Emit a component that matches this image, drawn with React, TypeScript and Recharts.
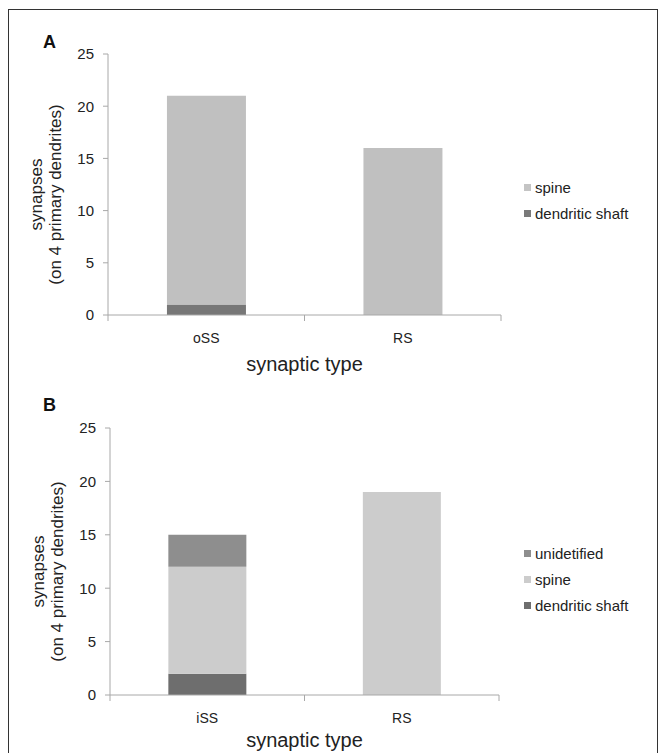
import { BarChart, Bar, XAxis, YAxis } from 'recharts';

// panel A
const categoriesA = ['oSS', 'RS'];
const shaftA = [1, 0];
const spineA = [20, 16];

// panel B
const categoriesB = ['iSS', 'RS'];
const shaftB = [2, 0];
const spineB = [10, 19];
const unidentifiedB = [3, 0];

const yTicks = [0, 5, 10, 15, 20, 25];

const FONT = '"Liberation Sans", Arial, Helvetica, sans-serif';
const AXIS = '#a8a8a8';

const dataA = categoriesA.map((c, i) => ({ name: c, shaft: shaftA[i], spine: spineA[i] }));
const dataB = categoriesB.map((c, i) => ({
  name: c, shaft: shaftB[i], spine: spineB[i], unidentified: unidentifiedB[i],
}));

const makeTick = (count: number) => (props: any) => {
  const { x, y, payload, index } = props;
  const half = payload.offset || 0;
  return (
    <g>
      <line x1={x - half} x2={x - half} y1={y} y2={y + 6} stroke={AXIS} />
      {index === count - 1 && <line x1={x + half} x2={x + half} y1={y} y2={y + 6} stroke={AXIS} />}
      <text x={x} y={y + 28} textAnchor="middle" fontSize={14} fill="#222" fontFamily={FONT}>
        {payload.value}
      </text>
    </g>
  );
};

const YTitle = ({ viewBox }: any) => {
  const cy = viewBox.y + viewBox.height / 2 + 10;
  const right = viewBox.x + viewBox.width;
  const x1 = right - 66;
  const x2 = right - 47;
  return (
    <g fontFamily={FONT} fontSize={17} fill="#222" textAnchor="middle">
      <text x={x1} y={cy} transform={`rotate(-90, ${x1}, ${cy})`}>synapses</text>
      <text x={x2} y={cy} transform={`rotate(-90, ${x2}, ${cy})`}>(on 4 primary dendrites)</text>
    </g>
  );
};

const makeXTitle = (dy: number) => ({ viewBox }: any) => (
  <text x={viewBox.x + viewBox.width / 2} y={viewBox.y + dy} textAnchor="middle"
    fontFamily={FONT} fontSize={20} fill="#222">
    synaptic type
  </text>
);
const XTitleA = makeXTitle(56);
const XTitleB = makeXTitle(52);

const LegendBox = ({ items, top }: { items: { name: string; color: string }[]; top: number }) => (
  <div style={{ position: 'absolute', left: 524, top, fontFamily: FONT, fontSize: 15, color: '#222' }}>
    {items.map(it => (
      <div key={it.name} style={{ display: 'flex', alignItems: 'center', height: 26 }}>
        <span style={{ width: 7, height: 7, background: it.color, display: 'inline-block', marginRight: 4 }} />
        <span>{it.name}</span>
      </div>
    ))}
  </div>
);

const PanelLetter = ({ text, top }: { text: string; top: number }) => (
  <div style={{ position: 'absolute', left: 43, top, fontFamily: FONT, fontSize: 18, fontWeight: 700, color: '#111' }}>
    {text}
  </div>
);

export default function App() {
  return (
    <div style={{ position: 'absolute', left: 0, top: 0, width: 662, height: 753, overflow: 'hidden', background: '#fff' }}>
      <div style={{
        position: 'absolute', left: 8, top: 9, width: 650, height: 800,
        border: '1px solid #333', boxSizing: 'border-box',
      }} />

      {/* ── Panel A ── */}
      <PanelLetter text="A" top={32} />
      <div style={{ position: 'absolute', left: 0, top: 0 }}>
        <BarChart width={662} height={380} data={dataA} barCategoryGap="30%"
          margin={{ top: 54, right: 161, left: 48, bottom: 35 }}>
          <XAxis dataKey="name" stroke={AXIS} tickLine={false} tickSize={0} tickMargin={0} height={30}
            tick={makeTick(categoriesA.length)} label={<XTitleA />} />
          <YAxis domain={[0, 25]} ticks={yTicks} width={60} stroke={AXIS} tickSize={5} tickMargin={9}
            tick={{ fill: '#222', fontSize: 15, fontFamily: FONT }} label={<YTitle />} />
          <Bar dataKey="shaft" stackId="a" fill="#777777" isAnimationActive={false} />
          <Bar dataKey="spine" stackId="a" fill="#c0c0c0" isAnimationActive={false} />
        </BarChart>
      </div>
      <LegendBox top={174} items={[
        { name: 'spine', color: '#c4c4c4' },
        { name: 'dendritic shaft', color: '#7a7a7a' },
      ]} />

      {/* ── Panel B ── */}
      <PanelLetter text="B" top={395} />
      <div style={{ position: 'absolute', left: 0, top: 380 }}>
        <BarChart width={662} height={373} data={dataB} barCategoryGap="30%"
          margin={{ top: 48, right: 163, left: 50, bottom: 28 }}>
          <XAxis dataKey="name" stroke={AXIS} tickLine={false} tickSize={0} tickMargin={0} height={30}
            tick={makeTick(categoriesB.length)} label={<XTitleB />} />
          <YAxis domain={[0, 25]} ticks={yTicks} width={60} stroke={AXIS} tickSize={5} tickMargin={9}
            tick={{ fill: '#222', fontSize: 15, fontFamily: FONT }} label={<YTitle />} />
          <Bar dataKey="shaft" stackId="b" fill="#6e6e6e" isAnimationActive={false} />
          <Bar dataKey="spine" stackId="b" fill="#cccccc" isAnimationActive={false} />
          <Bar dataKey="unidentified" stackId="b" fill="#8e8e8e" isAnimationActive={false} />
        </BarChart>
      </div>
      <LegendBox top={540} items={[
        { name: 'unidetified', color: '#8e8e8e' },
        { name: 'spine', color: '#cccccc' },
        { name: 'dendritic shaft', color: '#6e6e6e' },
      ]} />
    </div>
  );
}
